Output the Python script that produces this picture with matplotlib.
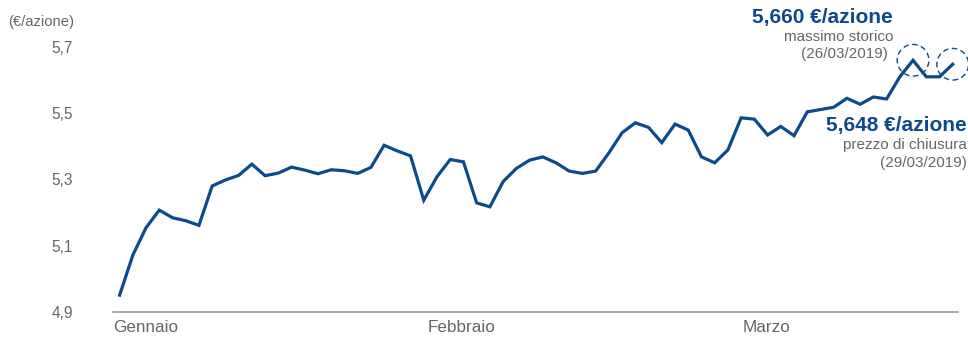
import matplotlib.pyplot as plt
import numpy as np

plt.rcParams['font.family'] = ['Liberation Sans', 'DejaVu Sans']

# prezzo giornaliero (€/azione), gennaio - marzo 2019
prezzi = [4.950, 5.071, 5.154, 5.207, 5.184, 5.175, 5.161, 5.280, 5.298, 5.312,
          5.346, 5.311, 5.319, 5.337, 5.328, 5.317, 5.329, 5.326, 5.318, 5.336,
          5.403, 5.386, 5.371, 5.237, 5.308, 5.360, 5.353, 5.229, 5.217, 5.293,
          5.333, 5.358, 5.368, 5.350, 5.325, 5.318, 5.325, 5.380, 5.441, 5.471,
          5.457, 5.411, 5.467, 5.449, 5.368, 5.350, 5.389, 5.486, 5.482, 5.434,
          5.460, 5.432, 5.504, 5.511, 5.518, 5.545, 5.527, 5.549, 5.543, 5.610,
          5.660, 5.610, 5.610, 5.648]
mesi = ["Gennaio", "Febbraio", "Marzo"]
mesi_pos = [-0.5, 23.3, 47.1]
yticks = [4.9, 5.1, 5.3, 5.5, 5.7]
i_max = 60      # 26/03/2019
i_last = 63     # 29/03/2019

blu = "#0b4a8b"
grigio = "#666666"

fig = plt.figure(figsize=(9.68, 3.38), dpi=100)
ax = fig.add_axes([113 / 968, 26.3 / 338, 845 / 968, 0.832])

x = np.arange(len(prezzi))
ax.plot(x, prezzi, color=blu, lw=2.3, solid_joinstyle='miter', clip_on=False)

# cerchi tratteggiati su massimo e chiusura
ax.scatter([x[i_max], x[i_last]], [prezzi[i_max], prezzi[i_last]], s=520,
           facecolors='none', edgecolors=blu, linewidths=1.0,
           linestyles=(0, (4, 2.5)), clip_on=False, zorder=3)

ax.set_xlim(-0.48, 63.4)
ax.set_ylim(4.9, 5.75)

for s in ['top', 'right', 'left']:
    ax.spines[s].set_visible(False)
ax.spines['bottom'].set_color('#a0a0a0')
ax.spines['bottom'].set_linewidth(1.3)

ax.set_yticks(yticks)
ax.set_yticklabels([f"{v:.1f}".replace('.', ',') for v in yticks])
ax.tick_params(axis='y', length=0, pad=29, labelsize=11.2, labelcolor=grigio)
ax.set_xticks(mesi_pos)
ax.set_xticklabels(mesi, ha='left')
ax.tick_params(axis='x', length=0, pad=6, labelsize=12.3, labelcolor=grigio)

fig.text(8 / 968, 1 - 22 / 338, "(€/azione)", fontsize=10.6, color=grigio,
         ha='left', va='center')

# annotazioni
fig.text(893 / 968, 1 - 17 / 338, "5,660 €/azione", fontsize=15, color=blu,
         fontweight='bold', ha='right', va='center')
fig.text(893 / 968, 1 - 37 / 338, "massimo storico", fontsize=11, color=grigio,
         ha='right', va='center')
fig.text(888 / 968, 1 - 54 / 338, "(26/03/2019)", fontsize=11, color=grigio,
         ha='right', va='center')

fig.text(967 / 968, 1 - 125 / 338, "5,648 €/azione", fontsize=15, color=blu,
         fontweight='bold', ha='right', va='center')
fig.text(967 / 968, 1 - 145 / 338, "prezzo di chiusura", fontsize=11, color=grigio,
         ha='right', va='center')
fig.text(967 / 968, 1 - 163 / 338, "(29/03/2019)", fontsize=11, color=grigio,
         ha='right', va='center')

fig.savefig("out.png", dpi=100)
